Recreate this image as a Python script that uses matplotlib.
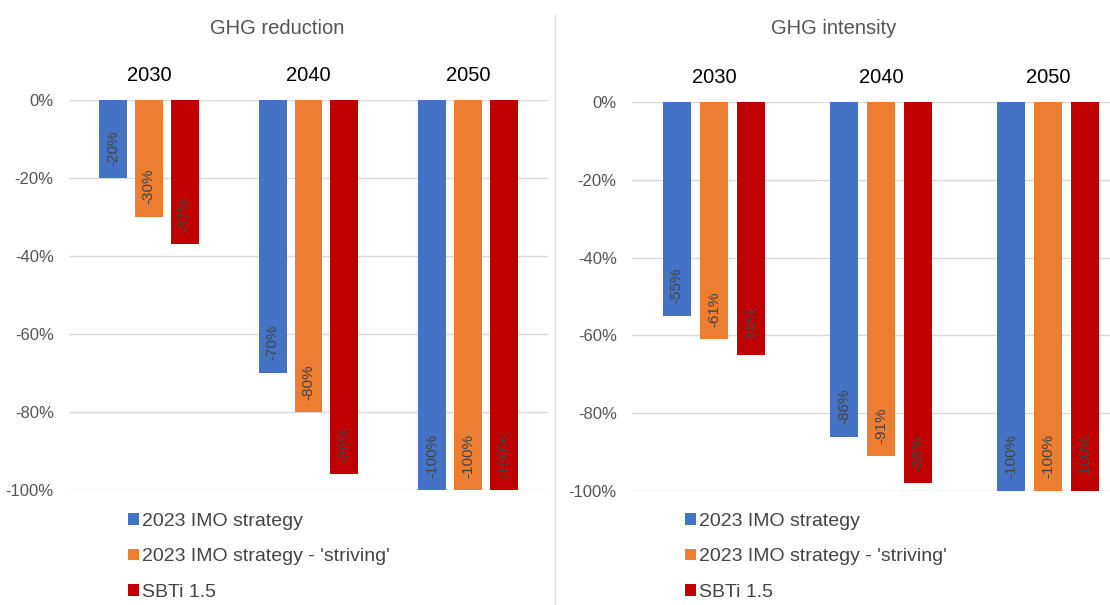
import numpy as np
import matplotlib
matplotlib.use("Agg")
import matplotlib.pyplot as plt
from matplotlib.lines import Line2D
from matplotlib.patches import Patch

# data
years = ["2030", "2040", "2050"]
series = ["2023 IMO strategy", "2023 IMO strategy - 'striving'", "SBTi 1.5"]
colors = ["#4472C4", "#ED7D31", "#C00000"]

reduction_imo = [-20, -70, -100]
reduction_striving = [-30, -80, -100]
reduction_sbti = [-37, -96, -100]

intensity_imo = [-55, -86, -100]
intensity_striving = [-61, -91, -100]
intensity_sbti = [-65, -98, -100]

yticks = [0, -20, -40, -60, -80, -100]
ytick_labels = ["0%", "-20%", "-40%", "-60%", "-80%", "-100%"]

plt.rcParams['font.family'] = ['Liberation Sans', 'DejaVu Sans']

fig = plt.figure(figsize=(11.1, 6.05), dpi=100)
W, H = 1110.0, 605.0


def panel(rect, title, title_x, data, xlim, width, step):
    ax = fig.add_axes(rect)
    x = np.arange(len(years))
    for k, vals in enumerate(data):
        pos = x + (k - 1) * step
        bars = ax.bar(pos, vals, width=width, color=colors[k], zorder=3)
        for b, v in zip(bars, vals):
            ax.annotate("%d%%" % v, (b.get_x() + b.get_width() / 2, v),
                        xytext=(0, 9), textcoords="offset points",
                        rotation=90, ha="center", va="bottom",
                        fontsize=11, color="#444444", zorder=4)
    ax.set_ylim(-100, 0)
    ax.set_xlim(*xlim)
    ax.set_yticks(yticks)
    ax.set_yticklabels(ytick_labels, fontsize=12, color="#555555")
    ax.tick_params(axis="y", length=0, pad=11)
    ax.xaxis.tick_top()
    ax.set_xticks(x)
    ax.set_xticklabels(years, fontsize=14.5, color="black")
    ax.tick_params(axis="x", length=0, pad=10.5)
    ax.grid(axis="y", color="#d9d9d9", linewidth=1, zorder=0)
    for s in ax.spines.values():
        s.set_visible(False)
    fig.text(title_x / W, (H - 28) / H, title, fontsize=14.5,
             color="#555555", ha="center", va="center")
    return ax


ax1 = panel([69 / W, (H - 490) / H, 479 / W, 390 / H], "GHG reduction", 277,
            [reduction_imo, reduction_striving, reduction_sbti],
            (-0.5, 2.5), 0.175, 0.225)
ax2 = panel([632 / W, (H - 491) / H, 478 / W, 389 / H], "GHG intensity", 834,
            [intensity_imo, intensity_striving, intensity_sbti],
            (-0.49, 2.37), 0.17, 0.222)

handles = [Patch(facecolor=c, edgecolor="none") for c in colors]
for lx in [128, 685]:
    fig.legend(handles, series, loc="upper left",
               bbox_to_anchor=(lx / W, (H - 513) / H), frameon=False,
               fontsize=14, labelcolor="#444444", handlelength=0.55,
               handleheight=0.55, handletextpad=0.15, labelspacing=0.95,
               borderpad=0, borderaxespad=0)

fig.add_artist(Line2D([555 / W, 555 / W], [0, (H - 15) / H],
                      color="#dddddd", linewidth=1))

fig.savefig("out.png", dpi=100)
